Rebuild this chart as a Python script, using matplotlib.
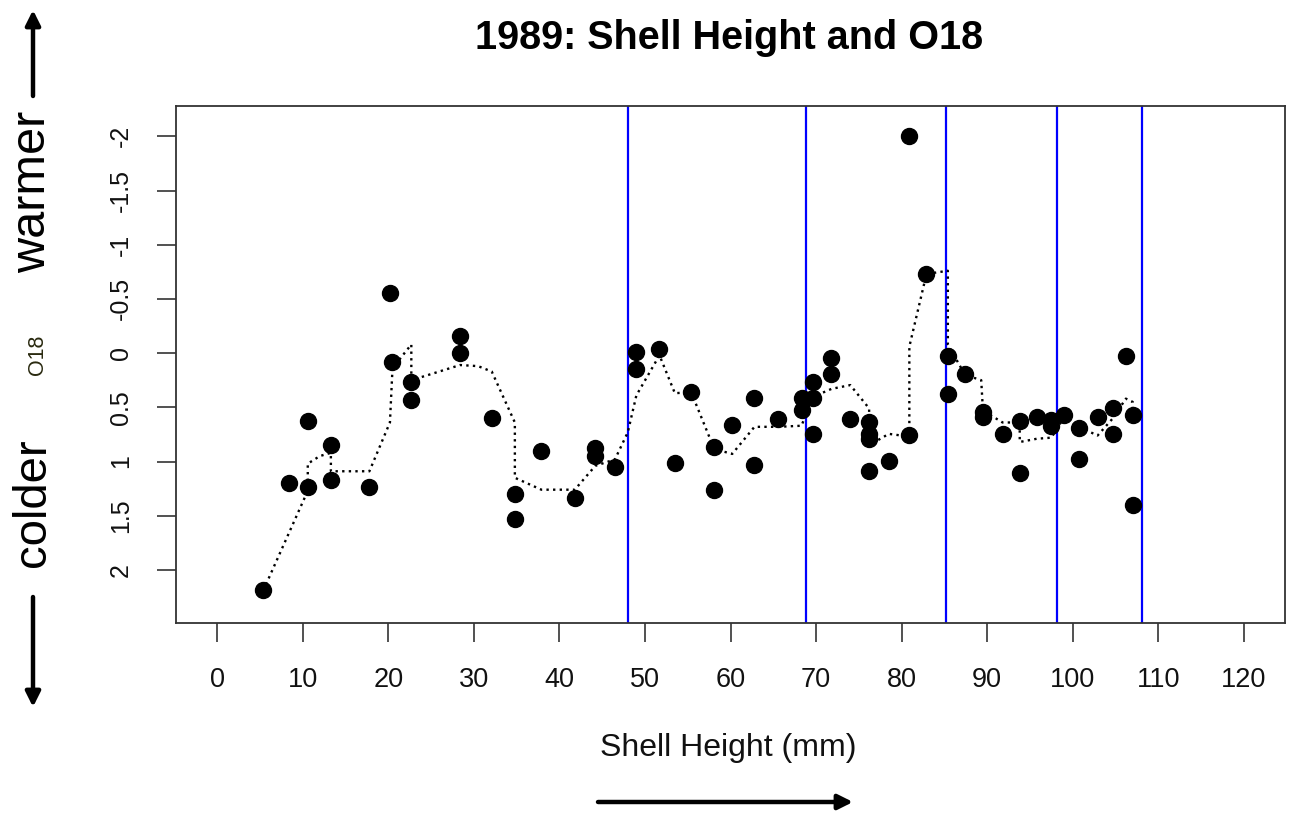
import matplotlib
matplotlib.use("Agg")
import matplotlib.pyplot as plt
from matplotlib.patches import FancyArrowPatch

plt.rcParams['font.family'] = ['Liberation Sans', 'DejaVu Sans']

# ---- data ----
shell_height = [5.4, 8.4, 10.6, 10.6, 13.3, 13.3, 17.8, 20.2, 20.5, 22.7, 22.7,
                28.4, 28.4, 32.1, 34.8, 34.8, 37.9, 41.8, 44.2, 44.2, 46.5,
                49.0, 49.0, 51.7, 53.5, 55.4, 58.1, 58.1, 60.2, 62.8, 62.8,
                65.6, 68.3, 68.3, 69.6, 69.6, 69.6, 71.8, 71.8, 74.0,
                76.2, 76.2, 76.2, 76.2, 78.5, 80.9, 80.9, 82.9, 85.4, 85.4,
                87.4, 89.5, 89.5, 91.8, 93.8, 93.8, 95.8, 97.5, 97.5, 99.0,
                100.7, 100.7, 102.9, 104.7, 104.7, 106.2, 107.0, 107.0]
o18 = [2.19, 1.20, 0.63, 1.235, 0.847, 1.167, 1.235, -0.557, 0.078, 0.264, 0.43,
       -0.155, -0.005, 0.60, 1.30, 1.535, 0.90, 1.34, 0.879, 0.947, 1.05,
       -0.008, 0.146, -0.04, 1.015, 0.36, 0.866, 1.266, 0.66, 0.41, 1.03,
       0.61, 0.41, 0.528, 0.264, 0.41, 0.745, 0.041, 0.196, 0.61,
       0.637, 0.745, 0.79, 1.086, 0.998, -2.0, 0.76, -0.728, 0.026, 0.38,
       0.196, 0.545, 0.59, 0.745, 0.63, 1.11, 0.59, 0.62, 0.675, 0.575,
       0.69, 0.98, 0.59, 0.506, 0.745, 0.026, 0.575, 1.40]

smooth_x = [5.4, 10.6, 10.6, 12.0, 13.3, 13.3, 17.8, 20.2, 20.5, 22.7, 22.7,
            28.4, 30.5, 32.1, 34.8, 34.8, 37.9, 41.8, 44.2, 46.5, 48.0,
            49.0, 51.7, 53.5, 55.4, 58.1, 60.2, 62.8, 65.6, 68.3, 69.6,
            71.8, 74.0, 76.2, 76.2, 78.5, 80.9, 80.9, 82.9, 85.4, 85.4,
            87.4, 89.3, 89.5, 91.8, 93.8, 93.8, 95.8, 97.5, 99.0, 100.7,
            102.9, 104.7, 106.2, 107.0, 107.0]
smooth_y = [2.19, 1.27, 1.02, 0.95, 0.92, 1.09, 1.09, 0.64, 0.14, -0.08, 0.25,
            0.11, 0.12, 0.17, 0.64, 1.15, 1.26, 1.26, 1.04, 0.98, 0.73,
            0.39, 0.02, 0.37, 0.36, 0.885, 0.93, 0.68, 0.68, 0.67, 0.405,
            0.33, 0.295, 0.51, 0.85, 0.745, 0.77, -0.06, -0.73, -0.76, -0.08,
            0.2, 0.25, 0.53, 0.64, 0.64, 0.82, 0.79, 0.78, 0.59, 0.68,
            0.76, 0.60, 0.42, 0.45, 0.66]

vlines_x = [48.0, 68.8, 85.2, 98.2, 108.1]

x_ticks = list(range(0, 121, 10))
y_ticks = [-2, -1.5, -1, -0.5, 0, 0.5, 1, 1.5, 2]
y_tick_labels = ["-2", "-1.5", "-1", "-0.5", "0", "0.5", "1", "1.5", "2"]

# ---- figure ----
W, H = 1294, 821
fig = plt.figure(figsize=(W / 100, H / 100), dpi=100)
ax = fig.add_axes([176 / W, 1 - 623 / H, (1285 - 176) / W, (623 - 106) / H])

for xv in vlines_x:
    ax.axvline(xv, color='#0000FF', lw=1.6, zorder=1)

ax.plot(smooth_x, smooth_y, linestyle=(0, (1, 1.8)), color='black', lw=1.7, zorder=2)
ax.plot(shell_height, o18, 'o', color='black', markersize=11.5, zorder=3)

ax.set_xlim(-4.8, 124.8)
ax.set_ylim(2.49, -2.28)

ax.set_xticks(x_ticks)
ax.set_xticklabels([str(v) for v in x_ticks], fontsize=19.5, color='#111111')
ax.set_yticks(y_ticks)
ax.set_yticklabels(y_tick_labels, fontsize=18, color='#111111', rotation=90, va='center')

ax.tick_params(axis='x', length=13.5, width=1.2, pad=18, color='#333333')
ax.tick_params(axis='y', length=14, width=1.2, pad=17, color='#333333')
for s in ax.spines.values():
    s.set_linewidth(1.3)
    s.set_color('#333333')

# titles and labels
fig.text(729 / W, 1 - 38 / H, "1989: Shell Height and O18", fontsize=28.5,
         fontweight='bold', ha='center', va='center')
fig.text(728 / W, 1 - 748 / H, "Shell Height (mm)", fontsize=23,
         ha='center', va='center', color='#111111')
fig.text(37 / W, 1 - 355 / H, "O18", fontsize=15.5, rotation=90,
         ha='center', va='center', color='#2a2a10')
fig.text(33 / W, 1 - 192 / H, "warmer", fontsize=35, rotation=90,
         ha='center', va='center')
fig.text(33 / W, 1 - 503 / H, "colder", fontsize=34, rotation=90,
         ha='center', va='center')

def arrow(p0, p1):
    a = FancyArrowPatch((p0[0] / W, 1 - p0[1] / H), (p1[0] / W, 1 - p1[1] / H),
                        transform=fig.transFigure, arrowstyle='-|>',
                        mutation_scale=22, lw=3.2, color='black',
                        shrinkA=0, shrinkB=0)
    fig.add_artist(a)

arrow((33, 96), (33, 10))
arrow((33, 597), (33, 707))
arrow((598, 802), (853, 802))

fig.savefig("out.png", dpi=100)
